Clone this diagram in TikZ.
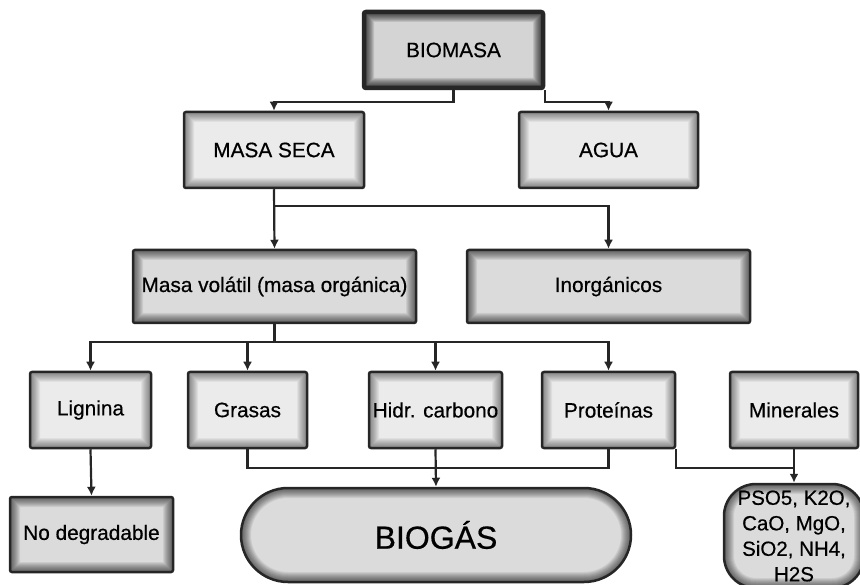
\documentclass[tikz,border=0pt]{standalone}
\usepackage{fontspec}
\setmainfont{Liberation Sans}[FakeBold=0.5]
\usetikzlibrary{arrows.meta}
\usetikzlibrary{positioning}
\tikzset{
>={Latex[length=9pt,width=9pt]},
glow radius/.initial=2pt,
glow/.style={path picture={
  \foreach \i in {1,...,10}{
    \draw[line width=2*\i pt,draw=black,draw opacity=#1,
          rounded corners=\pgfkeysvalueof{/tikz/glow radius}]
      (path picture bounding box.south west) rectangle (path picture bounding box.north east);}
}},
my box/.style={draw=black!85,line width=2.5pt,rounded corners=2pt,inner sep=0pt,
  minimum height=76pt,font=\fontsize{20.8}{24}\selectfont},
light box/.style={my box,fill=black!8,glow=0.05},
mid box/.style={my box,fill=black!14,glow=0.07},
dark box/.style={my box,fill=black!17,line width=4.5pt,glow=0.1},
pill/.style={mid box,minimum width=390pt,minimum height=94pt,rounded corners=47pt,
  glow radius=47pt,font=\fontsize{32}{36}\selectfont},
oval/.style={mid box,minimum width=140pt,minimum height=104pt,rounded corners=32pt,
  glow radius=32pt,align=center,font=\fontsize{20.5}{25.5}\selectfont},
link/.style={draw=black!85,line width=2.2pt}
}

\begin{document}
\begin{tikzpicture}[x=1pt,y=-1pt]
\useasboundingbox (0,0) rectangle (860,585);
% boxes
\node[dark box,minimum width=179pt]  (bio)   at (453.5,50)  {BIOMASA};
\node[light box,minimum width=180pt] (ms)    at (274,150)   {MASA SECA};
\node[light box,minimum width=179pt] (agua)  at (608.5,150) {AGUA};
\node[mid box,minimum width=283pt,minimum height=73pt] (mv)    at (274.5,286.5) {Masa volátil (masa orgánica)};
\node[mid box,minimum width=283pt,minimum height=73pt] (inorg) at (608.5,286.5) {Inorgánicos};
\node[light box,minimum width=121pt] (lig) at (90.5,410)  {Lignina};
\node[light box,minimum width=119pt] (gra) at (247.5,410) {Grasas};
\node[light box,minimum width=133pt] (hid) at (435.5,410) {Hidr. carbono};
\node[light box,minimum width=133pt] (pro) at (608.5,410) {Proteínas};
\node[light box,minimum width=128pt] (mnr) at (794,410)   {Minerales};
\node[mid box,minimum width=163pt,minimum height=75pt] (nodeg) at (91.5,534.5) {No degradable};
\node[pill] (biogas) at (436,535) {BIOGÁS};
\node[oval] (minox) at (794,536) {PSO5, K2O,\\CaO, MgO,\\SiO2, NH4,\\H2S};
% connectors
\begin{scope}[link]
\draw[->] (bio.south) -- ++(0,12) -| (ms.north);
\draw[->] (bio.south east) -- ++(0,12) -| (agua.north);
\draw[->] (ms.south) -- (mv.north);
\draw[->] (ms.south) ++(0,17) -| (inorg.north);
\draw (mv.south) -- ++(0,18) coordinate (split);
\draw[->] (split) -| (lig.north);
\draw[->] (split) -| (gra.north);
\draw[->] (split) -| (hid.north);
\draw[->] (split) -| (pro.north);
\draw[->] (lig.south) -- (nodeg.north);
\draw (gra.south) -- ++(0,19) -| (pro.south);
\draw[->] (hid.south) -- (biogas.north);
\draw[->] (pro.south east) -- ++(0,19) -| (minox.north);
\draw (mnr.south) -- ++(0,19);
\end{scope}
\end{tikzpicture}
\end{document}
